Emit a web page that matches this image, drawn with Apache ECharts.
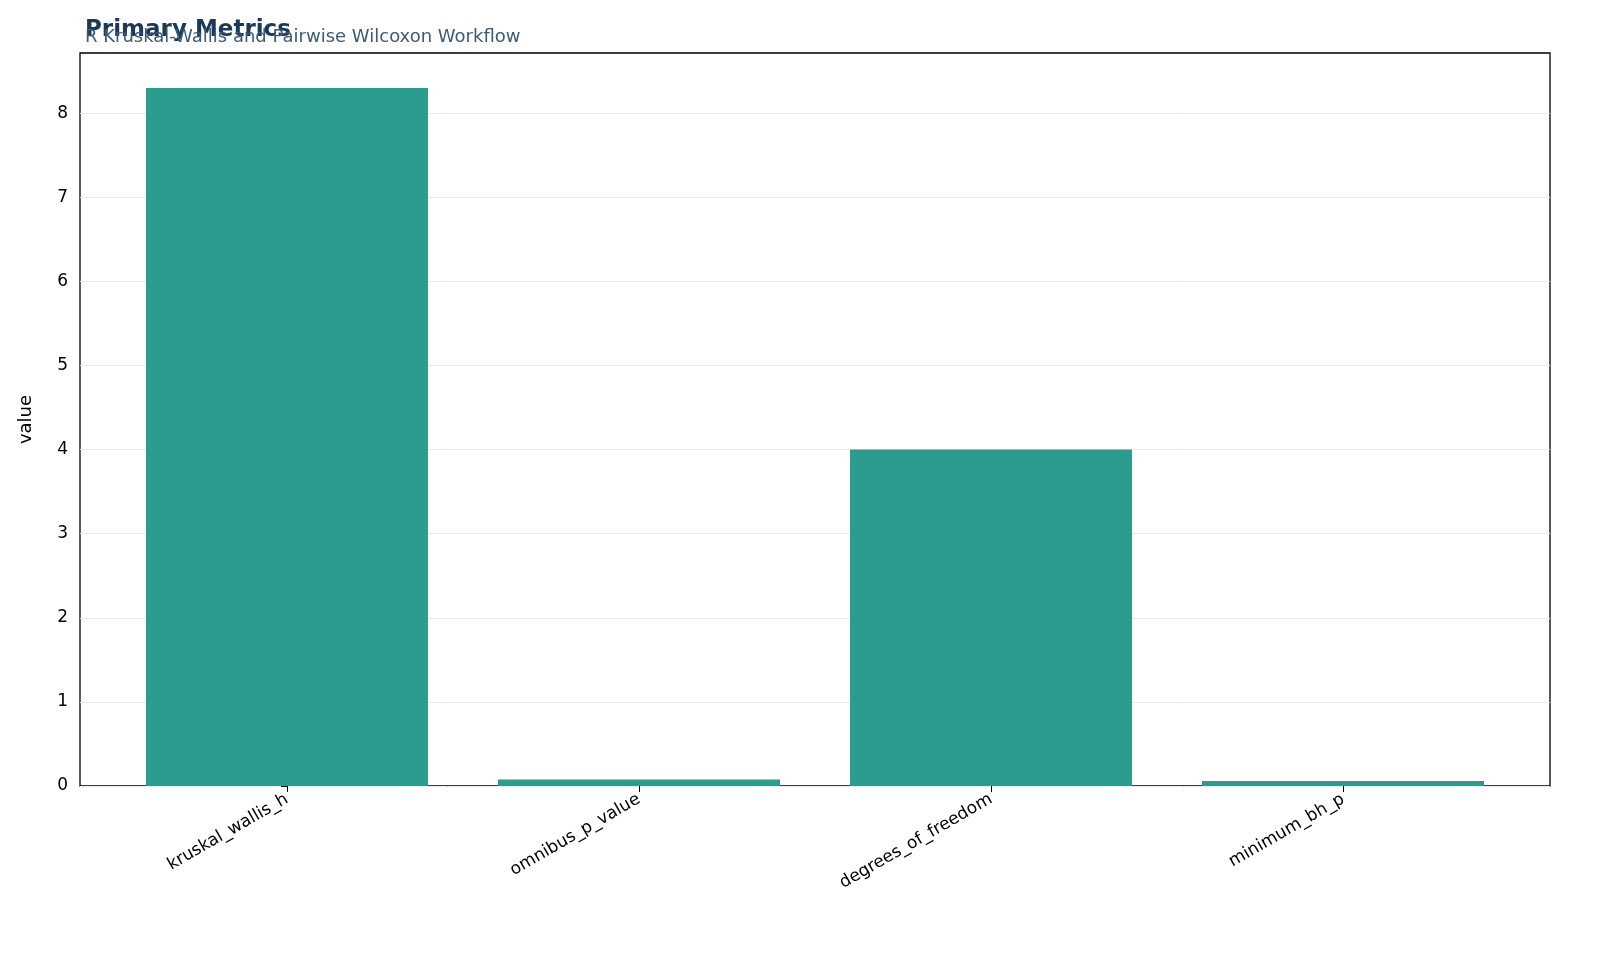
<!DOCTYPE html><html><head><meta charset="utf-8"><script src="https://cdn.jsdelivr.net/npm/echarts@6/dist/echarts.min.js"></script>
<style>html,body{margin:0;background:#fff}#c{width:1600px;height:978px}</style></head><body><div id="c"></div><script>
const categories=["kruskal_wallis_h","omnibus_p_value","degrees_of_freedom","minimum_bh_p"];
const values=[8.3,0.077,4,0.06];
const yTicks=[0,1,2,3,4,5,6,7,8];
const ch=echarts.init(document.getElementById('c'));
const F='DejaVu Sans';
ch.setOption({animation:false,
title:[{text:'Primary Metrics',left:80,top:14,textStyle:{fontFamily:F,fontSize:23,fontWeight:'bold',color:'#1b3a57'}},
{text:'R Kruskal-Wallis and Pairwise Wilcoxon Workflow',left:80,top:23,textStyle:{fontFamily:F,fontSize:18,fontWeight:'normal',color:'#3f5a73'}}],
grid:{left:80,right:50,top:53,bottom:192,show:true,borderColor:'#000',borderWidth:1.3,backgroundColor:'#fff'},
xAxis:{type:'value',min:-0.588,max:3.588,axisLine:{show:false},splitLine:{show:false},
 axisTick:{show:true,customValues:[0,1,2,3],length:6,lineStyle:{color:'#000'}},
 axisLabel:{customValues:[0,1,2,3],rotate:30,fontFamily:F,fontSize:17,color:'#000',margin:12,formatter:v=>categories[Math.round(v)]}},
yAxis:{type:'value',min:0,max:8.715,name:'value',nameLocation:'middle',nameGap:45,nameTextStyle:{fontFamily:F,fontSize:18,color:'#000'},
 axisLine:{show:false},axisTick:{show:true,customValues:yTicks,length:6,lineStyle:{color:'#000'}},
 axisLabel:{customValues:yTicks,fontFamily:F,fontSize:17,color:'#000',margin:12},
 splitLine:{show:true,lineStyle:{color:'#ebebeb',width:1}}},
series:[{type:'bar',barWidth:282,data:values.map((v,i)=>[i,v]),itemStyle:{color:'#2a9d8f'}}]
});
</script></body></html>
